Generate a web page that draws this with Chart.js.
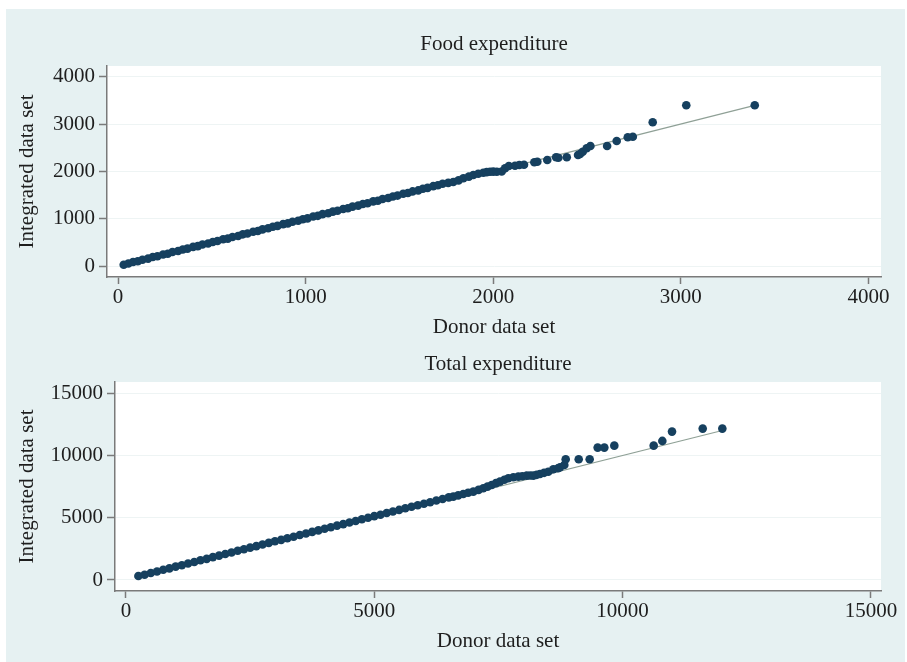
<!DOCTYPE html>
<html>
<head>
<meta charset="utf-8">
<script src="https://cdn.jsdelivr.net/npm/chart.js@4/dist/chart.umd.min.js"></script>
<style>
  body { margin: 0; background: #ffffff; }
  #wrap { position: relative; width: 907px; height: 662px; overflow: hidden; }
  #bg { position: absolute; left: 6px; top: 9px; width: 899px; height: 653px; background: #e6f1f2; }
  #food_chart { position: absolute; left: 0; top: 0; }
  #total_chart { position: absolute; left: 0; top: 340px; }
</style>
</head>
<body>
<div id="wrap">
  <div id="bg"></div>
  <canvas id="food_chart" width="907" height="345"></canvas>
  <canvas id="total_chart" width="907" height="322"></canvas>
</div>
<script>
// Food expenditure: donor vs integrated values
var foodDonor = [30, 55, 80, 105, 130, 160, 185, 210, 240, 265, 290, 320, 345, 370, 400, 425, 450, 480, 505, 530,
  560, 585, 610, 640, 665, 690, 720, 745, 770, 800, 825, 850, 880, 905, 930, 960, 985, 1010, 1040, 1065,
  1090, 1120, 1145, 1170, 1200, 1225, 1250, 1280, 1305, 1330, 1360, 1385, 1410, 1440, 1465, 1490, 1520, 1545, 1570, 1600,
  1625, 1650, 1680, 1705, 1730, 1760, 1787, 1815, 1841, 1870, 1894, 1920, 1947, 1965, 1983, 2000, 2019, 2045, 2063, 2083,
  2116, 2139, 2164, 2219, 2235, 2288, 2335, 2347, 2392, 2452, 2463, 2477, 2498, 2518, 2607, 2658, 2717, 2744, 2850, 3029, 3394];
var foodIntegrated = [28, 52, 84, 101, 133, 157, 190, 206, 244, 261, 295, 316, 349, 368, 404, 421, 456, 477, 508, 528,
  565, 580, 614, 636, 670, 687, 724, 741, 775, 797, 830, 848, 885, 901, 936, 957, 990, 1008, 1046, 1061,
  1096, 1117, 1150, 1168, 1205, 1221, 1256, 1277, 1311, 1328, 1366, 1381, 1416, 1437, 1471, 1489, 1527, 1542, 1577, 1598,
  1632, 1652, 1688, 1708, 1740, 1757, 1775, 1810, 1854, 1890, 1924, 1950, 1973, 1985, 1994, 1996, 1994, 1998, 2065, 2114,
  2121, 2135, 2142, 2192, 2205, 2241, 2300, 2290, 2298, 2347, 2368, 2417, 2488, 2537, 2537, 2643, 2721, 2734, 3038, 3397, 3397];
var foodLine = [30, 3394];
var foodTicks = [0, 1000, 2000, 3000, 4000];

// Total expenditure: donor vs integrated values
var totalDonor = [250, 375, 500, 625, 750, 875, 1000, 1125, 1250, 1375, 1500, 1625, 1750, 1875, 2000, 2125, 2250, 2375, 2500, 2625,
  2750, 2875, 3000, 3125, 3250, 3375, 3500, 3625, 3750, 3875, 4000, 4125, 4250, 4375, 4500, 4625, 4750, 4875, 5000, 5125,
  5250, 5375, 5500, 5625, 5750, 5875, 6000, 6125, 6250, 6375, 6500, 6591, 6690, 6792, 6890, 6994, 7100, 7195, 7280, 7364,
  7450, 7531, 7620, 7699, 7800, 7900, 7980, 8069, 8140, 8203, 8270, 8337, 8420, 8504, 8605, 8700, 8740, 8826, 8854, 9116,
  9337, 9498, 9632, 9833, 10626, 10800, 10995, 11613, 12008];
var totalIntegrated = [322, 420, 560, 680, 820, 935, 1075, 1190, 1330, 1450, 1585, 1700, 1840, 1960, 2090, 2215, 2345, 2465, 2600, 2720,
  2850, 2980, 3110, 3225, 3360, 3480, 3615, 3735, 3865, 3985, 4120, 4240, 4370, 4490, 4625, 4745, 4875, 5000, 5130, 5245,
  5380, 5500, 5630, 5760, 5880, 6010, 6130, 6250, 6390, 6510, 6640, 6696, 6800, 6913, 7010, 7100, 7240, 7371, 7500, 7637,
  7780, 7904, 8050, 8175, 8250, 8303, 8340, 8386, 8390, 8386, 8450, 8521, 8610, 8703, 8897, 8980, 9057, 9244, 9700, 9700,
  9700, 10636, 10636, 10796, 10796, 11174, 11921, 12162, 12162];
var totalLine = [250, 12008];
var totalTicks = [0, 5000, 10000, 15000];

var FONT = "'Liberation Serif', 'Times New Roman', serif";
var TEXT = "#1e1e1e";
var AXIS = "#7a7a7a";
var MARK = "#16405f";

// white plot region like the original
var plotBg = {
  id: "plotBg",
  beforeDraw: function (chart) {
    var a = chart.chartArea, c = chart.ctx;
    c.save();
    c.fillStyle = "#ffffff";
    c.fillRect(a.left, a.top, a.right - a.left, a.bottom - a.top);
    c.restore();
  }
};

function pairs(xs, ys) {
  var out = [];
  for (var i = 0; i < xs.length; i++) out.push({ x: xs[i], y: ys[i] });
  return out;
}

function plain(v) { return String(v); }

function makeChart(id, cfg) {
  var ctx = document.getElementById(id).getContext("2d");
  return new Chart(ctx, {
    type: "scatter",
    data: {
      datasets: [
        {
          type: "line",
          data: [{ x: cfg.line[0], y: cfg.line[0] }, { x: cfg.line[1], y: cfg.line[1] }],
          borderColor: "#8fa096",
          borderWidth: 1.2,
          pointRadius: 0,
          fill: false,
          order: 2,
        },
        {
          data: pairs(cfg.xs, cfg.ys),
          backgroundColor: MARK,
          borderColor: MARK,
          borderWidth: 0,
          pointStyle: "circle",
          pointRadius: 4.3,
          order: 1,
        },
      ],
    },
    options: {
      responsive: false,
      animation: false,
      layout: { padding: { left: 6, right: 26, top: 0, bottom: 0 } },
      plugins: {
        legend: { display: false },
        tooltip: { enabled: false },
        title: {
          display: true,
          text: cfg.title,
          color: TEXT,
          fullSize: false,
          font: { family: FONT, size: 21, weight: "normal" },
          padding: { top: cfg.titleTop, bottom: cfg.titleBottom },
        },
      },
      scales: {
        x: {
          type: "linear",
          min: cfg.xMin,
          max: cfg.xMax,
          afterBuildTicks: function (s) { s.ticks = cfg.ticks.map(function (v) { return { value: v }; }); },
          afterFit: function (s) { s.height = cfg.xHeight; },
          grid: { drawOnChartArea: false, tickLength: 7, tickColor: AXIS, tickWidth: 1.5 },
          border: { color: AXIS, width: 1.5 },
          ticks: { color: TEXT, font: { family: FONT, size: 21 }, padding: 1, maxRotation: 0, callback: plain },
          title: {
            display: true,
            text: "Donor data set",
            color: TEXT,
            font: { family: FONT, size: 21 },
            padding: { top: 0, bottom: cfg.xTitleBottom },
          },
        },
        y: {
          type: "linear",
          min: cfg.yMin,
          max: cfg.yMax,
          afterBuildTicks: function (s) { s.ticks = cfg.ticks.map(function (v) { return { value: v }; }); },
          afterFit: function (s) { s.width = cfg.yWidth; },
          grid: { color: "#eef4f4", lineWidth: 1, tickLength: 8, tickColor: AXIS, tickWidth: 1.5 },
          border: { color: AXIS, width: 1.5 },
          ticks: { color: TEXT, font: { family: FONT, size: 21 }, padding: 4, callback: plain },
          title: {
            display: true,
            text: "Integrated data set",
            color: TEXT,
            font: { family: FONT, size: 21 },
            padding: { top: 9, bottom: 0 },
          },
        },
      },
    },
    plugins: [plotBg],
  });
}

var food_chart = makeChart("food_chart", {
  title: "Food expenditure",
  xs: foodDonor, ys: foodIntegrated, line: foodLine, ticks: foodTicks,
  xMin: -59, xMax: 4067, yMin: -232, yMax: 4228,
  titleTop: 32, titleBottom: 8.8,
  xHeight: 68, xTitleBottom: 5.4, yWidth: 101,
});

var total_chart = makeChart("total_chart", {
  title: "Total expenditure",
  xs: totalDonor, ys: totalIntegrated, line: totalLine, ticks: totalTicks,
  xMin: -221, xMax: 15203, yMin: -884, yMax: 15908,
  titleTop: 11.4, titleBottom: 5.4,
  xHeight: 71, xTitleBottom: 8.4, yWidth: 109,
});
</script>
</body>
</html>
